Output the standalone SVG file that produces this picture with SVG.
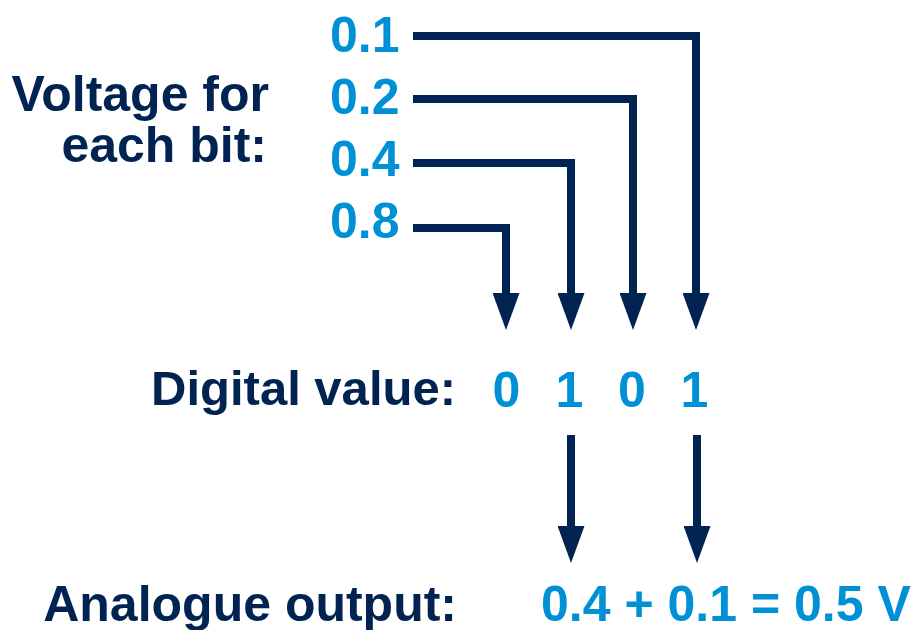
<svg xmlns="http://www.w3.org/2000/svg" width="915" height="630" viewBox="0 0 915 630">
  <defs>
    <style>
      .lbl { font-family: "Liberation Sans", Arial, sans-serif; font-weight: bold; fill: #002352; font-size: 50px; }
      .val { font-family: "Liberation Sans", Arial, sans-serif; font-weight: bold; fill: #0090d6; font-size: 50px; }
      .wire { fill: none; stroke: #002352; stroke-width: 8; stroke-linejoin: miter; marker-end: url(#head); }
    </style>
    <marker id="head" viewBox="0 0 37 27" markerUnits="userSpaceOnUse" markerWidth="37" markerHeight="27" refX="1" refY="13.5" orient="auto">
      <path d="M0,0 L37,13.5 L0,27 Z" fill="#002352"/>
    </marker>
  </defs>
  <rect width="915" height="630" fill="#ffffff"/>

  <g id="bit-voltages">
    <text class="lbl" x="269" y="111" text-anchor="end">Voltage for</text>
    <text class="lbl" x="267" y="162" text-anchor="end">each bit:</text>
    <text class="val" x="330" y="52">0.1</text>
    <text class="val" x="330" y="114">0.2</text>
    <text class="val" x="330" y="176">0.4</text>
    <text class="val" x="330" y="238">0.8</text>
  </g>

  <g id="connectors">
    <path class="wire" d="M413 36 H696 V294"/>
    <path class="wire" d="M413 99 H633 V294"/>
    <path class="wire" d="M413 163 H571 V294"/>
    <path class="wire" d="M413 228 H506 V294"/>
    <path class="wire" d="M571 435 V527"/>
    <path class="wire" d="M697 435 V527"/>
  </g>

  <g id="digital-value">
    <text class="lbl" x="456" y="405" text-anchor="end" style="font-size:49px">Digital value:</text>
    <text class="val" x="506.5" y="407" text-anchor="middle">0</text>
    <text class="val" x="569.5" y="407" text-anchor="middle">1</text>
    <text class="val" x="632" y="407" text-anchor="middle">0</text>
    <text class="val" x="694.5" y="407" text-anchor="middle">1</text>
  </g>

  <g id="analogue-output">
    <text class="lbl" x="457" y="621" text-anchor="end">Analogue output:</text>
    <text class="val" x="541" y="621">0.4 + 0.1 = 0.5 V</text>
  </g>
</svg>
